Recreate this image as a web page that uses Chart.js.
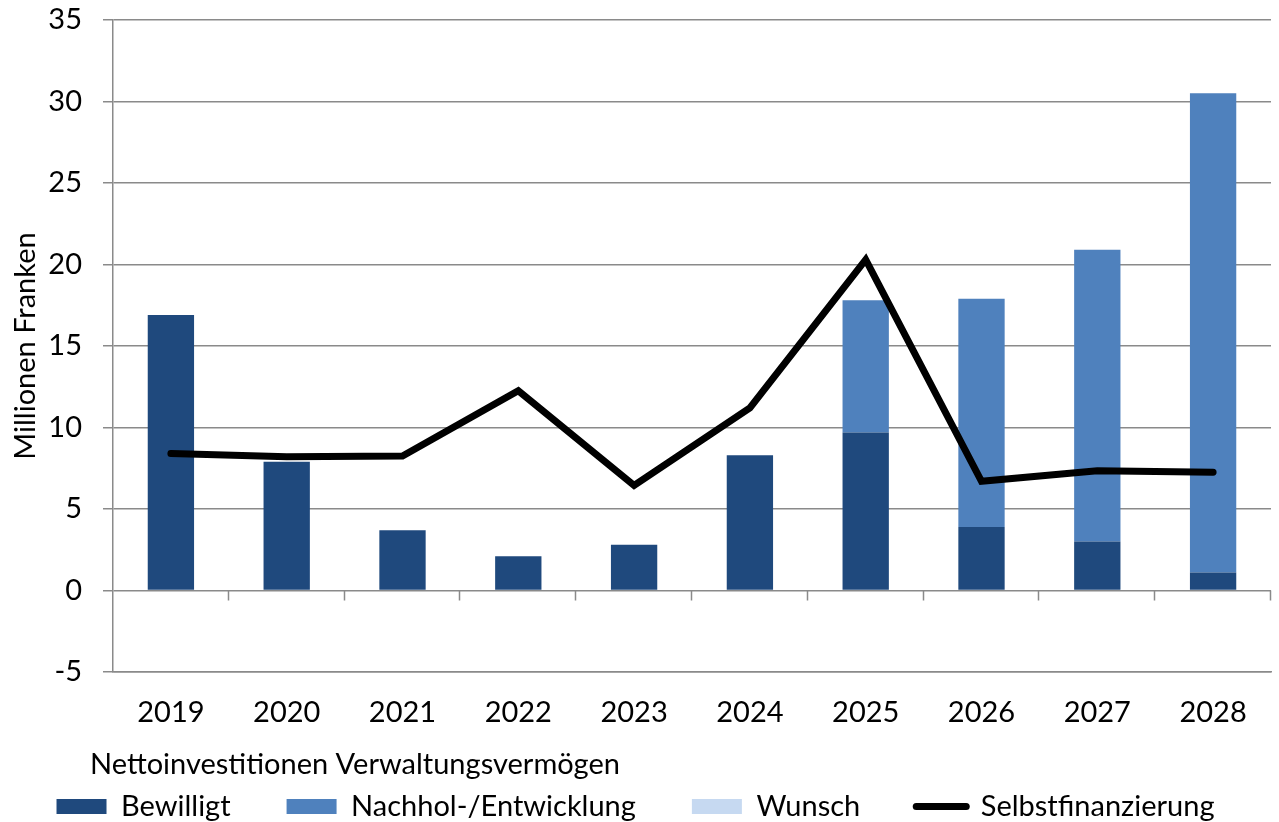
<!DOCTYPE html>
<html lang="de">
<head>
<meta charset="utf-8">
<title>Nettoinvestitionen Verwaltungsvermögen</title>
<script src="https://cdn.jsdelivr.net/npm/chart.js@4.4.0/dist/chart.umd.min.js"></script>
<style>
    html, body { margin: 0; padding: 0; background: #fff; }
</style>
</head>
<body>
<canvas id="chart" width="1279" height="822"></canvas>
<script>
// Data (Millionen Franken)
const years = ['2019', '2020', '2021', '2022', '2023', '2024', '2025', '2026', '2027', '2028'];
const bewilligt = [16.9, 7.9, 3.7, 2.1, 2.8, 8.3, 9.7, 3.9, 3.0, 1.1];
const nachholEntwicklung = [0, 0, 0, 0, 0, 0, 8.1, 14.0, 17.9, 29.4];
const wunsch = [0, 0, 0, 0, 0, 0, 0, 0, 0, 0];
const selbstfinanzierung = [8.4, 8.2, 8.25, 12.25, 6.45, 11.2, 20.3, 6.7, 7.35, 7.25];
const yTicks = [-5, 0, 5, 10, 15, 20, 25, 30, 35];
const caption = 'Nettoinvestitionen Verwaltungsvermögen';

const FONT = 'Lato';
const FONT_SIZE = 29;
const GRID = '#8a8a8a';

// caption above the legend items
const captionPlugin = {
    id: 'caption',
    afterDraw(chart) {
        const ctx = chart.ctx;
        ctx.save();
        ctx.font = FONT_SIZE + 'px ' + FONT;
        ctx.fillStyle = '#000';
        ctx.textBaseline = 'middle';
        ctx.textAlign = 'left';
        ctx.fillText(caption, chart.chartArea.left - 23, chart.legend.top + 29);
        ctx.restore();
    }
};

// small tick marks on the zero line between categories
const zeroTicks = {
    id: 'zeroTicks',
    afterDraw(chart) {
        const x = chart.scales.x;
        const y0 = chart.scales.y.getPixelForValue(0);
        const n = years.length;
        const step = (x.right - x.left) / n;
        const ctx = chart.ctx;
        ctx.save();
        ctx.strokeStyle = GRID;
        ctx.lineWidth = 1.5;
        ctx.beginPath();
        for (let i = 1; i <= n; i++) {
            const px = Math.round(x.left + i * step) - 0.5;
            ctx.moveTo(px, y0);
            ctx.lineTo(px, y0 + 10);
        }
        ctx.stroke();
        ctx.restore();
    }
};

new Chart(document.getElementById('chart'), {
    type: 'bar',
    data: {
        labels: years,
        datasets: [
            {
                label: 'Bewilligt',
                data: bewilligt,
                backgroundColor: '#1F497D',
                stack: 'inv',
                order: 1
            },
            {
                label: 'Nachhol-/Entwicklung',
                data: nachholEntwicklung,
                backgroundColor: '#4F81BD',
                stack: 'inv',
                order: 1
            },
            {
                label: 'Wunsch',
                data: wunsch,
                backgroundColor: '#C6D9F1',
                stack: 'inv',
                order: 1
            },
            {
                type: 'line',
                label: 'Selbstfinanzierung',
                data: selbstfinanzierung,
                borderColor: '#000',
                backgroundColor: '#000',
                borderWidth: 7,
                borderCapStyle: 'round',
                borderJoinStyle: 'miter',
                pointRadius: 0,
                tension: 0,
                stack: 'line',
                order: 0
            }
        ]
    },
    options: {
        responsive: false,
        animation: false,
        barPercentage: 0.4,
        categoryPercentage: 1,
        layout: {
            padding: { top: 20, right: 8, left: 0, bottom: 0 }
        },
        scales: {
            x: {
                stacked: true,
                grid: { display: false },
                border: { display: true, color: GRID, width: 1.5 },
                ticks: {
                    color: '#000',
                    padding: 15,
                    font: { family: FONT, size: FONT_SIZE }
                },
                afterFit: (scale) => { scale.height = 64; }
            },
            y: {
                stacked: true,
                min: -5,
                max: 35,
                afterBuildTicks: (scale) => { scale.ticks = yTicks.map(v => ({ value: v })); },
                grid: {
                    color: GRID,
                    lineWidth: 1.5,
                    tickLength: 10,
                    drawTicks: true
                },
                border: { display: true, color: GRID, width: 1.5 },
                ticks: {
                    color: '#000',
                    padding: 21,
                    font: { family: FONT, size: FONT_SIZE }
                },
                title: {
                    display: true,
                    text: 'Millionen Franken',
                    color: '#000',
                    padding: { top: 8, bottom: 0 },
                    font: { family: FONT, size: FONT_SIZE }
                },
                afterFit: (scale) => {
                    scale.width = 113;
                    scale.paddingTop = 0;
                    scale.paddingBottom = 0;
                }
            }
        },
        plugins: {
            tooltip: { enabled: false },
            legend: {
                position: 'bottom',
                align: 'center',
                maxHeight: 86,
                labels: {
                    color: '#000',
                    font: { family: FONT, size: FONT_SIZE },
                    usePointStyle: true,
                    pointStyleWidth: 50,
                    boxHeight: 15,
                    padding: 56,
                    sort: (a, b) => a.datasetIndex - b.datasetIndex,
                    generateLabels(chart) {
                        const items = Chart.defaults.plugins.legend.labels.generateLabels(chart);
                        items.forEach(item => {
                            if (item.datasetIndex === 3) {
                                item.pointStyle = 'line';
                                item.lineWidth = 7;
                                item.strokeStyle = '#000';
                                item.lineCap = 'round';
                            } else {
                                item.pointStyle = 'rect';
                                item.lineWidth = 0;
                            }
                        });
                        return items;
                    }
                }
            }
        }
    },
    plugins: [captionPlugin, zeroTicks]
});
</script>
</body>
</html>
